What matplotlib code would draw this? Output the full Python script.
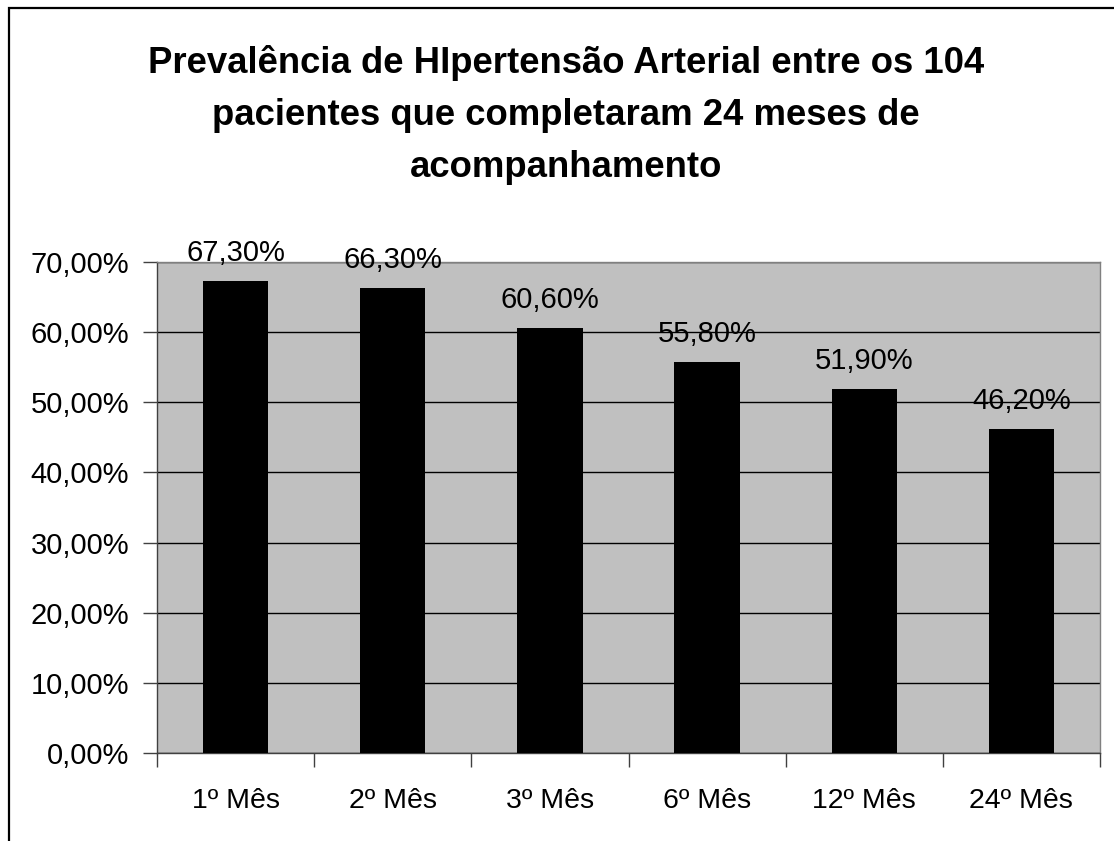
import matplotlib
matplotlib.use("Agg")
import matplotlib.pyplot as plt
from matplotlib.patches import Rectangle
from matplotlib.ticker import FuncFormatter, MultipleLocator

categories = ["1º Mês", "2º Mês", "3º Mês", "6º Mês", "12º Mês", "24º Mês"]
values = [67.30, 66.30, 60.60, 55.80, 51.90, 46.20]
title_lines = ["Prevalência de HIpertensão Arterial entre os 104",
               "pacientes que completaram 24 meses de",
               "acompanhamento"]

plt.rcParams['font.family'] = ['Liberation Sans', 'DejaVu Sans']

W, H = 1114, 841
fig = plt.figure(figsize=(W / 100, H / 100), dpi=100)
fig.patch.set_facecolor('white')

# figure border (left and top visible, rest cropped)
fig.patches.append(Rectangle((9 / W, -0.05), 1.1, 1 - 8 / H + 0.05,
                             transform=fig.transFigure, fill=False,
                             edgecolor='black', linewidth=1.6, zorder=0))

ax = fig.add_axes([157 / W, 1 - 753 / H, (1100 - 157) / W, (753 - 262) / H])
ax.set_facecolor('#C0C0C0')

x = list(range(len(categories)))
ax.bar(x, values, width=0.415, color='black', zorder=3)

ax.set_xlim(-0.5, len(categories) - 0.5)
ax.set_ylim(0, 70)
ax.yaxis.set_major_locator(MultipleLocator(10))
ax.yaxis.set_major_formatter(FuncFormatter(lambda v, p: f"{v:.2f}%".replace('.', ',')))
ax.grid(axis='y', color='black', linewidth=1.0, zorder=1)
ax.set_axisbelow(True)

ax.set_xticks([i - 0.5 for i in range(len(categories) + 1)], minor=False)
ax.set_xticklabels([])
ax.set_xticks(x, minor=True)
ax.set_xticklabels(categories, minor=True)
ax.tick_params(axis='x', which='major', length=10, width=1, color='#404040', direction='out')
ax.tick_params(axis='x', which='minor', length=0, pad=25, labelsize=20.5)
ax.tick_params(axis='y', length=10, width=1, color='#404040', direction='out', pad=10, labelsize=21)

for s in ['left', 'bottom']:
    ax.spines[s].set_color('#404040')
    ax.spines[s].set_linewidth(1.0)
for s in ['top', 'right']:
    ax.spines[s].set_color('#808080')
    ax.spines[s].set_linewidth(1.0)

for xi, v in zip(x, values):
    ax.annotate(f"{v:.2f}%".replace('.', ','), (xi, v), xytext=(0, 14.4),
                textcoords='offset points', ha='center', va='baseline',
                fontsize=21, zorder=4)

for line, yb in zip(title_lines, [73, 125, 177]):
    fig.text(566 / W, 1 - yb / H, line, ha='center', va='baseline',
             fontsize=26.3, fontweight='bold')

fig.savefig('out.png', dpi=100)
